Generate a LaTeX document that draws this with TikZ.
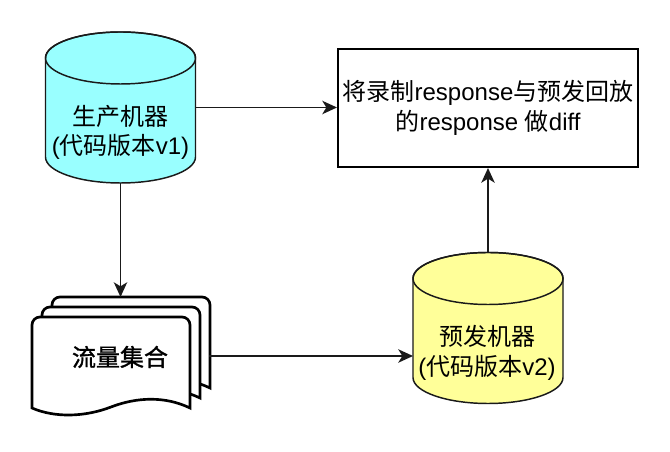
\documentclass[tikz,border=0pt]{standalone}
\usepackage{fontspec}
\setmainfont{Liberation Sans}
\newfontfamily\cjk{Noto Sans CJK SC}
\newfontfamily\cjkmed[FakeBold=1.2]{Noto Sans CJK SC}
\usetikzlibrary{arrows.meta}
\definecolor{cyanfill}{HTML}{99FFFF}
\definecolor{yellowfill}{HTML}{FFFF99}
\definecolor{linecol}{HTML}{1A1A1A}
\newcommand\mycyl[3]{%
  \begin{scope}[shift={(#1,#2)}]
    \filldraw[fill=#3, draw=linecol, line width=1.1pt]
      (-75,49.5) -- (-75,-49.5)
      arc[start angle=180,end angle=360,x radius=75,y radius=26]
      -- (75,49.5)
      arc[start angle=0,end angle=180,x radius=75,y radius=26] -- cycle;
    \draw[draw=linecol, line width=1.1pt] (0,49.5) ellipse[x radius=75,y radius=26];
  \end{scope}}
\newcommand\mydoc[2]{%
  \begin{scope}[shift={(#1,#2)}]
    \filldraw[fill=white, draw=black, line width=2pt]
      (0,-91) [rounded corners=6pt] -- (0,0) -- (158,0) [sharp corners] -- (158,-91)
      .. controls (133,-79) and (105,-80) .. (79,-90)
      .. controls (53,-100) and (23,-101) .. (0,-91) -- cycle;
  \end{scope}}
\tikzset{
  arr/.style={draw=linecol, line width=1.4pt, -{Stealth[length=11pt,width=10pt,inset=3pt]}},
  lbl/.style={align=center, inner sep=0pt, font=\fontsize{18pt}{22pt}\selectfont},
  holder/.style={inner sep=0pt, outer sep=0pt},
}
\begin{document}
\begin{tikzpicture}[x=0.75pt,y=0.75pt]
  \useasboundingbox (0,0) rectangle (670,452);
  \fill[white] (0,0) rectangle (670,452);

  % cylinders
  \node[holder, minimum width=112.5pt, minimum height=113.25pt] (c1) at (120.5,344.5) {};
  \mycyl{120.5}{344.5}{cyanfill}
  \node[lbl] (t1) at (120.5,319.5) {{\cjk 生产机器}\\({\cjk 代码版本}v1)};

  \node[holder, minimum width=112.5pt, minimum height=113.25pt] (c2) at (488,124) {};
  \mycyl{488}{124}{yellowfill}
  \node[lbl] (t2) at (487,99) {{\cjk 预发机器}\\({\cjk 代码版本}v2)};

  % box
  \node[draw=black, line width=1.5pt, minimum width=225pt, minimum height=88.5pt, lbl] (box) at (488,344)
    {{\cjk 将录制}response{\cjk 与预发回放}\\{\cjk 的}response {\cjk 做}diff};

  % document stack
  \node[holder, minimum width=132.75pt, minimum height=88.5pt] (stack) at (120.5,96) {};
  \mydoc{52}{155}
  \mydoc{42}{145}
  \mydoc{32}{135}
  \node[lbl] (t3) at (120,95) {\cjkmed 流量集合};

  % connectors
  \draw[arr] (c1.east) -- (c1.east -| box.west);
  \draw[arr] (c1.south) -- (stack.north);
  \draw[arr] (stack.east) -- (stack.east -| c2.west);
  \draw[arr] (c2.north) -- (box.south);
\end{tikzpicture}
\end{document}
